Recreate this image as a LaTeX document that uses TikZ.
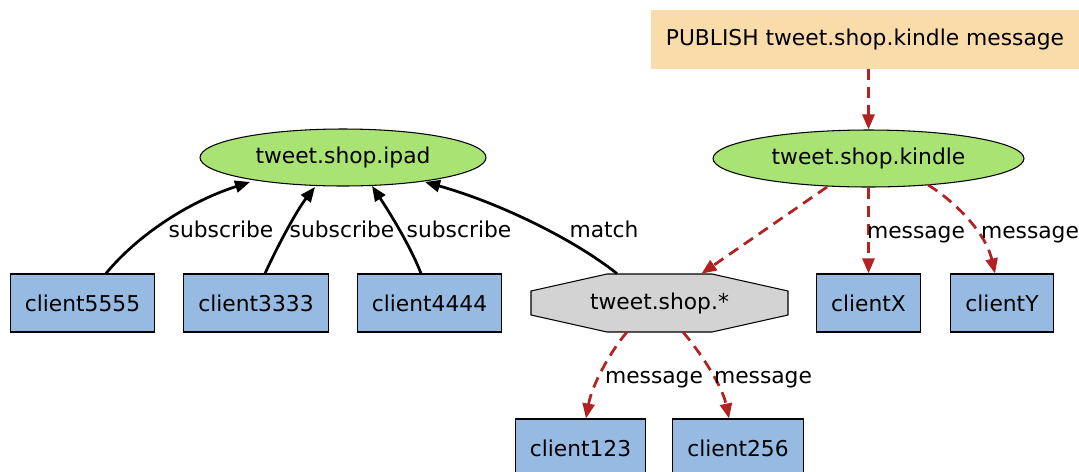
\documentclass[tikz,border=0pt]{standalone}
\usepackage{fontspec}
\setmainfont{DejaVu Sans}
\usetikzlibrary{arrows.meta,shapes.geometric,calc}

\definecolor{clientblue}{HTML}{96BAE1}
\definecolor{chgreen}{HTML}{A9E373}
\definecolor{octgray}{HTML}{D3D3D3}
\definecolor{pubwheat}{HTML}{FADBAA}
\definecolor{msgred}{HTML}{B22222}

\begin{document}
\begin{tikzpicture}[x=0.02cm, y=-0.02cm,
    every node/.style={font=\fontsize{12.4}{14}\selectfont},
    client/.style={draw, fill=clientblue, rectangle, minimum height=1.16cm,
      inner xsep=0.29cm, inner ysep=0pt, line width=0.6pt},
    chan/.style={draw, fill=chgreen, ellipse, inner sep=0pt, line width=0.6pt},
    sub/.style={-{Triangle[length=0.3cm,width=0.24cm]}, line width=0.055cm},
    msg/.style={sub, draw=msgred, dash pattern=on 0.22cm off 0.14cm},
    lbl/.style={inner sep=0pt, anchor=base}]

    % 画布大小 (与原图比例一致)
    \useasboundingbox (0,0) rectangle (1079,471);

    % 1. 发布命令
    \node[fill=pubwheat, inner sep=0pt, minimum width=8.56cm, minimum height=1.18cm]
        (pub) at (865,39.5) {PUBLISH tweet.shop.kindle message};

    % 2. 两个频道 (椭圆)
    \node[chan, minimum width=5.72cm, minimum height=1.14cm] (ipad) at (343,157.5) {tweet.shop.ipad};
    \node[chan, minimum width=6.22cm, minimum height=1.14cm] (kindle) at (868.5,158.5) {tweet.shop.kindle};

    % 3. 模式 tweet.shop.* (八边形)
    \draw[fill=octgray, line width=0.6pt] (607,274) -- (712,274) -- (788,291) -- (788,315)
        -- (712,332) -- (607,332) -- (531,315) -- (531,291) -- cycle;
    \node[inner sep=0pt, minimum width=5.14cm, minimum height=1.16cm] (star) at (659.5,303) {tweet.shop.*};

    % 4. 客户端
    \node[client] (c5555) at (82.5,303) {client5555};
    \node[client] (c3333) at (256,303) {client3333};
    \node[client] (c4444) at (429.5,303) {client4444};
    \node[client] (cX) at (868.5,303) {clientX};
    \node[client] (cY) at (1002,303) {clientY};
    \node[client] (c123) at (580.5,448) {client123};
    \node[client] (c256) at (738,448) {client256};

    % 5. 订阅 (黑色实线)
    \coordinate (t1) at (250,182);
    \coordinate (t2) at (315,187);
    \coordinate (t3) at (372,186);
    \coordinate (t4) at (425,182);
    \draw[sub] ([xshift=0.47cm]c5555.north) .. controls (135,238) and (185,203) .. (t1);
    \draw[sub] ([xshift=0.18cm]c3333.north) .. controls (278,245) and (297,210) .. (t2);
    \draw[sub] ([xshift=-0.17cm]c4444.north) .. controls (410,245) and (388,210) .. (t3);
    \draw[sub] ([xshift=-0.85cm]star.north) .. controls (575,240) and (500,203) .. (t4);
    \node[lbl] (s1) at (221,237.5) {subscribe};
    \node[lbl] (s2) at (342,237.5) {subscribe};
    \node[lbl] (s3) at (459,237.5) {subscribe};
    \node[lbl] (m0) at (604,237.5) {match};

    % 6. 消息投递 (红色虚线)
    \coordinate (k1) at (827,187);
    \coordinate (k3) at (928,185);
    \coordinate (a1) at (627,332);
    \coordinate (a2) at (683,332);
    \draw[msg] (kindle |- pub.south) -- (kindle);
    \draw[msg] (k1) -- ([xshift=0.84cm]star.north);
    \draw[msg] (kindle) -- (cX);
    \draw[msg] (k3) .. controls (950,198) and (985,230) .. ([xshift=-0.14cm]cY.north);
    \draw[msg] (a1) .. controls (610,352) and (592,385) .. ([xshift=0.11cm]c123.north);
    \draw[msg] (a2) .. controls (700,352) and (722,385) .. ([xshift=-0.18cm]c256.north);
    \node[lbl] (m1) at (916,238) {message};
    \node[lbl] (m2) at (1030,238) {message};
    \node[lbl] (m3) at (654,383) {message};
    \node[lbl] (m4) at (763,383) {message};

\end{tikzpicture}
\end{document}
